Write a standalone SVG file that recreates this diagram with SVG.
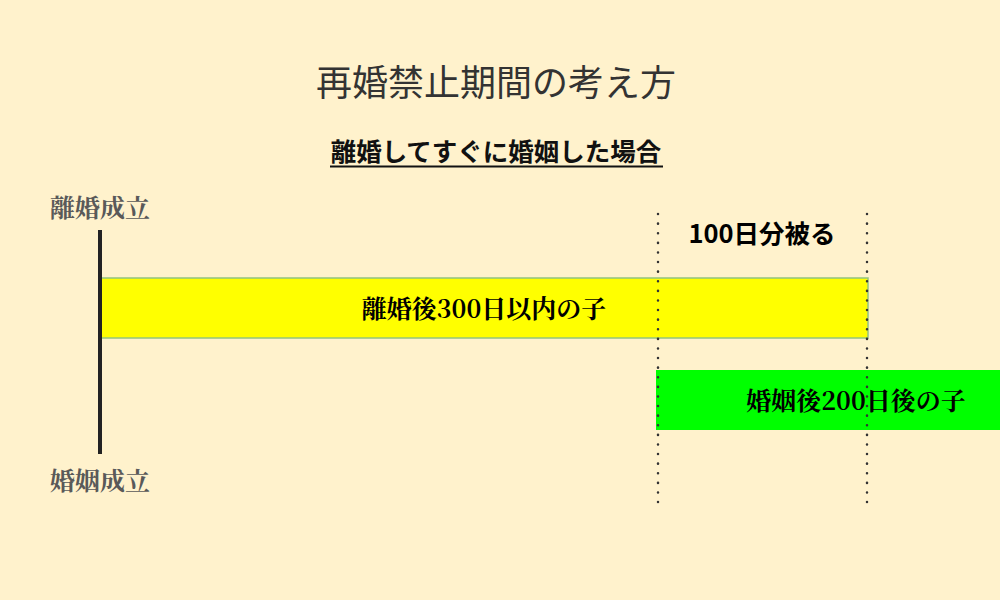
<svg xmlns="http://www.w3.org/2000/svg" width="1000" height="600" viewBox="0 0 1000 600">
<style>
.serif{font-family:"Noto Serif CJK JP","Liberation Serif","Noto Sans CJK JP",serif;}
.sans{font-family:"Noto Sans CJK JP","Noto Sans",sans-serif;}
.label{font-size:25px;fill:#595959;font-weight:bold;}
.bar{font-size:25px;fill:#000;font-weight:bold;}
.dots{stroke:#333;stroke-width:2.5;stroke-dasharray:0.1 9.5;stroke-linecap:round;fill:none;}
</style>
<rect width="1000" height="600" fill="#fff2cc"/>
<g id="title">
<text class="sans" x="496" y="96" font-size="36" fill="#333" text-anchor="middle">再婚禁止期間の考え方</text>
</g>
<g id="subtitle">
<text class="sans" x="496" y="161" font-size="25.5" font-weight="bold" fill="#111" text-anchor="middle">離婚してすぐに婚姻した場合</text>
<line x1="330" y1="166.5" x2="663" y2="166.5" stroke="#111" stroke-width="2"/>
</g>
<g id="divorce-label">
<text class="serif label" x="50" y="217">離婚成立</text>
</g>
<g id="marriage-label">
<text class="serif label" x="50" y="490">婚姻成立</text>
</g>
<g id="bar-300">
<rect x="101" y="278" width="767" height="60" fill="#ffff00" stroke="#93c47d" stroke-width="1.5"/>
<text class="serif bar" x="484" y="318" text-anchor="middle">離婚後300日以内の子</text>
</g>
<g id="bar-200">
<rect x="656" y="370" width="346" height="60" fill="#00ff00"/>
<text class="serif bar" x="856" y="410" text-anchor="middle">婚姻後200日後の子</text>
</g>
<g id="overlap-label">
<text class="sans" x="762" y="243" font-size="25.5" font-weight="bold" fill="#000" text-anchor="middle">100日分被る</text>
</g>
<g id="connectors">
<line x1="100" y1="230" x2="100" y2="454" stroke="#222" stroke-width="4"/>
<line class="dots" x1="658" y1="214" x2="658" y2="506"/>
<line class="dots" x1="867" y1="214" x2="867" y2="506"/>
</g>
</svg>
